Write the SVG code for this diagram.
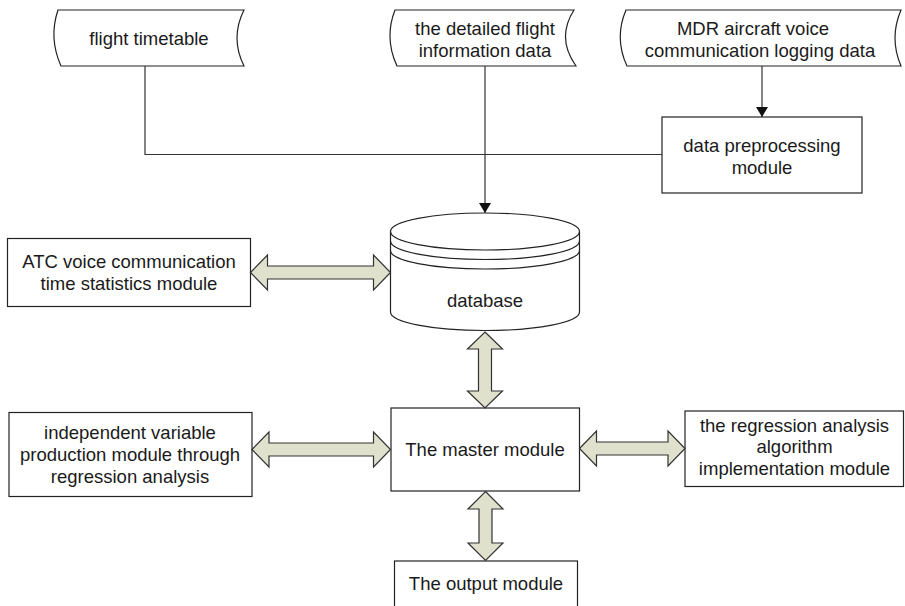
<svg xmlns="http://www.w3.org/2000/svg" width="905" height="606" viewBox="0 0 905 606">
<defs>
<style>
.shape{fill:#fff;stroke:#222;stroke-width:1.2}
.line{fill:none;stroke:#333;stroke-width:1.2}
.dbl{fill:#dfe1cc;stroke:#333;stroke-width:1.2;stroke-linejoin:miter}
text{font-family:"Liberation Sans",Arial,sans-serif;font-size:18.5px;fill:#1a1a1a;text-anchor:middle}
</style>
<marker id="ah" viewBox="0 0 10 12" refX="10" refY="6" markerWidth="10" markerHeight="12" markerUnits="userSpaceOnUse" orient="auto">
<path d="M0,0 L10,6 L0,12 Z" fill="#111"/>
</marker>
</defs>
<rect width="905" height="606" fill="#fff"/>

<g id="flight-timetable">
<path class="shape" d="M58,10 L244,10 Q230,38 244,66 L61,66 Q48.5,38 58,10 Z"/>
<text x="149" y="44.5">flight timetable</text>
</g>

<g id="detailed-flight">
<path class="shape" d="M395,10 L574,10 Q556,38 576,66 L397,66 Q384,38 395,10 Z"/>
<text x="485" y="34.5">the detailed flight</text>
<text x="485" y="56.5">information data</text>
</g>

<g id="mdr-data">
<path class="shape" d="M626,10 L901,10 Q889,38 901,66 L627,66 Q614,38 626,10 Z"/>
<text x="753" y="34.5">MDR aircraft voice</text>
<text x="760" y="56.5">communication logging data</text>
</g>

<g id="data-preprocessing">
<rect class="shape" x="662" y="117" width="200" height="76"/>
<text x="762" y="151.5">data preprocessing</text>
<text x="762" y="173.5">module</text>
</g>

<g id="database">
<path class="shape" d="M390.5,231.5 A94.5,18.5 0 0 1 579.5,231.5 L579.5,312 A94.5,18.5 0 0 1 390.5,312 Z"/>
<path class="line" style="stroke:#222" d="M390.5,231.5 A94.5,18.5 0 0 0 579.5,231.5 M390.5,241 A94.5,18.5 0 0 0 579.5,241 M390.5,250.5 A94.5,18.5 0 0 0 579.5,250.5"/>
<text x="485" y="306.5">database</text>
</g>

<g id="atc-module">
<rect class="shape" x="7.5" y="238.5" width="243" height="68"/>
<text x="129" y="267.5">ATC voice communication</text>
<text x="129" y="289.5">time statistics module</text>
</g>

<g id="master-module">
<rect class="shape" x="391" y="408" width="188.5" height="83"/>
<text x="485" y="456">The master module</text>
</g>

<g id="independent-variable">
<rect class="shape" x="9" y="412.5" width="243" height="84"/>
<text x="130" y="438.5">independent variable</text>
<text x="130" y="460.5">production module through</text>
<text x="130" y="482.5">regression analysis</text>
</g>

<g id="regression-algorithm">
<rect class="shape" x="685" y="411" width="218.5" height="75.5"/>
<text x="794.5" y="431.5">the regression analysis</text>
<text x="794.5" y="453">algorithm</text>
<text x="794.5" y="474.5">implementation module</text>
</g>

<g id="output-module">
<rect class="shape" x="394.5" y="561" width="183" height="60"/>
<text x="486" y="589.5">The output module</text>
</g>

<g id="connectors">
<path class="line" d="M145,66 L145,154.5 L662,154.5"/>
<path class="line" d="M485,66 L485,213" marker-end="url(#ah)"/>
<path class="line" d="M762,66 L762,117" marker-end="url(#ah)"/>
<polygon class="dbl" points="250.5,272.5 267.5,255 267.5,266 373.5,266 373.5,255 390.5,272.5 373.5,290 373.5,279 267.5,279 267.5,290"/>
<polygon class="dbl" points="485,332 502.5,349 491.5,349 491.5,391 502.5,391 485,408 467.5,391 478.5,391 478.5,349 467.5,349"/>
<polygon class="dbl" points="252,449.5 269,432 269,443 373.5,443 373.5,432 390.5,449.5 373.5,467 373.5,456 269,456 269,467"/>
<polygon class="dbl" points="579.5,448.5 596.5,431 596.5,442 668,442 668,431 685,448.5 668,466 668,455 596.5,455 596.5,466"/>
<polygon class="dbl" points="485.5,491.5 503,509 492,509 492,543 503,543 485.5,560.5 468,543 479,543 479,509 468,509"/>
</g>
</svg>
